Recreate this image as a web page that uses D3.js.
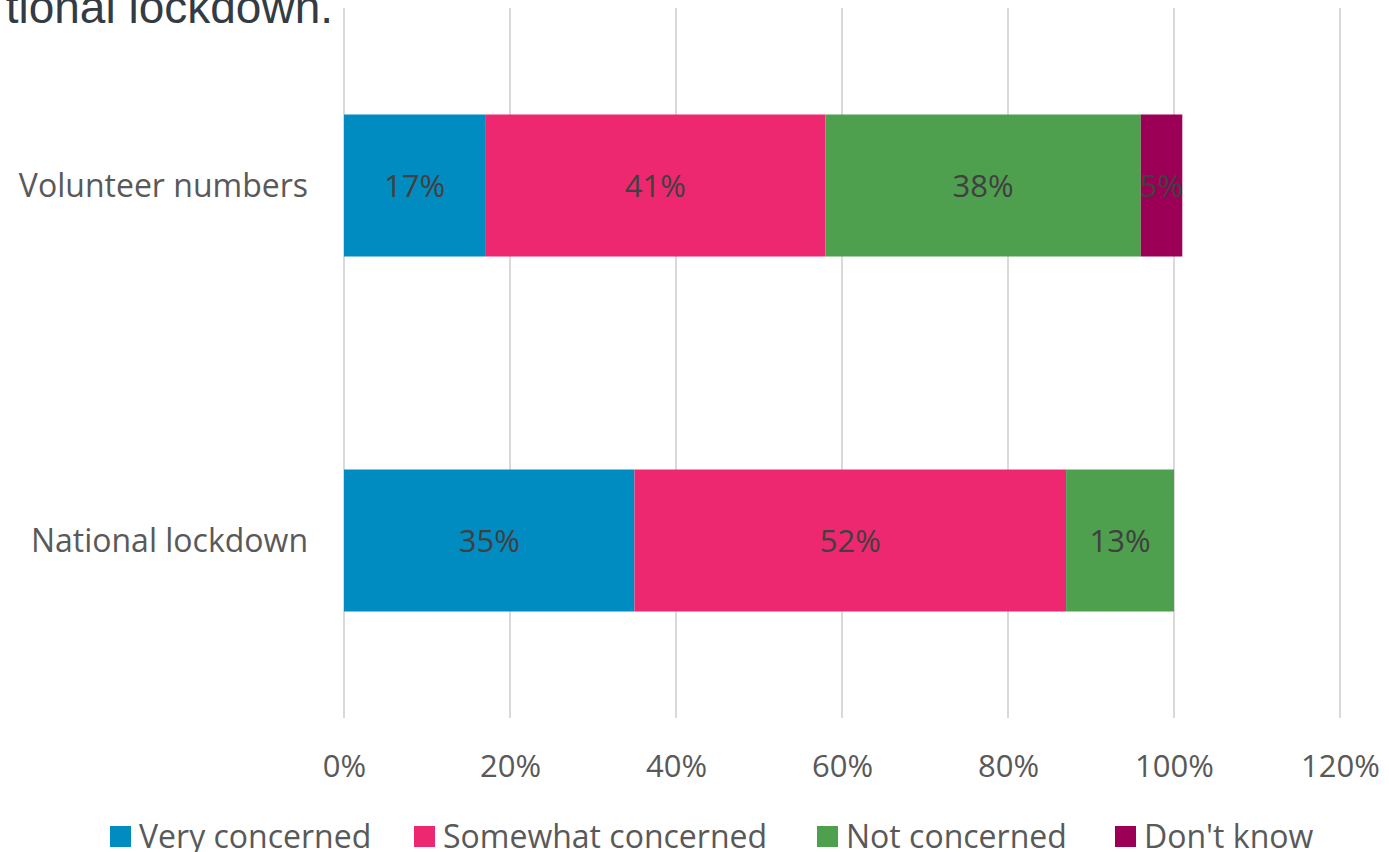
<!DOCTYPE html>
<html>
<head>
<meta charset="utf-8">
<script src="https://cdn.jsdelivr.net/npm/d3@7"></script>
<style>
  body { margin: 0; background: #fff; }
  svg { display: block; }
  .tick text { fill: #595959; }
</style>
</head>
<body>
<svg id="chart" width="1389" height="852"></svg>
<script>
// data
const categories = ["Volunteer numbers", "National lockdown"];
const seriesNames = ["Very concerned", "Somewhat concerned", "Not concerned", "Don't know"];
const seriesColors = ["#008CC1", "#EE2870", "#4E9F4E", "#9B0056"];
const veryConcerned = [17, 35];
const somewhatConcerned = [41, 52];
const notConcerned = [38, 13];
const dontKnow = [5, 0];
const xTicks = [0, 20, 40, 60, 80, 100, 120];

const svg = d3.select("#chart");
const font = "'Open Sans', sans-serif";

const margin = { left: 344, right: 49, top: 8, bottom: 134 };
const W = 1389, H = 852;

const x = d3.scaleLinear().domain([0, 120]).range([margin.left, W - margin.right]);
const y = d3.scaleBand().domain(categories)
    .range([margin.top, H - margin.bottom])
    .paddingInner(0.6).paddingOuter(0.3);

// title fragment (cut off in the original)
svg.append("text")
    .attr("x", 333).attr("y", 23)
    .attr("text-anchor", "end")
    .style("font-family", "'Liberation Sans', Arial, sans-serif")
    .style("font-size", "46px")
    .style("fill", "#333B44")
    .text("tional lockdown.");

// gridlines
svg.append("g").selectAll("line")
    .data(xTicks)
    .enter().append("line")
    .attr("x1", d => x(d)).attr("x2", d => x(d))
    .attr("y1", margin.top).attr("y2", H - margin.bottom)
    .style("stroke", "#D9D9D9").style("stroke-width", 2);

// stack the series
const rows = categories.map((c, i) => ({
    cat: c,
    "Very concerned": veryConcerned[i],
    "Somewhat concerned": somewhatConcerned[i],
    "Not concerned": notConcerned[i],
    "Don't know": dontKnow[i]
}));
const stacked = d3.stack().keys(seriesNames)(rows);

const layers = svg.append("g").selectAll("g")
    .data(stacked)
    .enter().append("g")
    .style("fill", (d, i) => seriesColors[i]);

layers.selectAll("rect")
    .data(d => d.filter(p => p[1] > p[0]))
    .enter().append("rect")
    .attr("x", d => x(d[0]))
    .attr("width", d => x(d[1]) - x(d[0]))
    .attr("y", d => y(d.data.cat))
    .attr("height", y.bandwidth());

layers.selectAll("text")
    .data(d => d.filter(p => p[1] > p[0]))
    .enter().append("text")
    .attr("x", d => (x(d[0]) + x(d[1])) / 2)
    .attr("y", d => y(d.data.cat) + y.bandwidth() / 2 + 11)
    .attr("text-anchor", "middle")
    .style("font-family", font)
    .style("font-size", "31px")
    .style("fill", "#404040")
    .text(d => (d[1] - d[0]) + "%");

// category axis labels
svg.append("g").selectAll("text")
    .data(categories)
    .enter().append("text")
    .attr("x", 308)
    .attr("y", d => y(d) + y.bandwidth() / 2 + 11)
    .attr("text-anchor", "end")
    .style("font-family", font)
    .style("font-size", "32px")
    .style("fill", "#595959")
    .text(d => d);

// x axis labels
const xAxis = d3.axisBottom(x)
    .tickValues(xTicks)
    .tickFormat(d => d + "%")
    .tickSize(0).tickPadding(0);
const gx = svg.append("g")
    .attr("transform", `translate(0, ${H - margin.bottom + 37})`)
    .call(xAxis);
gx.select(".domain").remove();
gx.selectAll("text")
    .style("font-family", font)
    .style("font-size", "31px");

// legend
const legendX = [110, 414, 817, 1115];
const legend = svg.append("g").selectAll("g")
    .data(seriesNames)
    .enter().append("g")
    .attr("transform", (d, i) => `translate(${legendX[i]}, 826)`);
legend.append("rect")
    .attr("width", 21).attr("height", 21)
    .style("fill", (d, i) => seriesColors[i]);
legend.append("text")
    .attr("x", 29).attr("y", 22)
    .style("font-family", font)
    .style("font-size", "32px")
    .style("fill", "#595959")
    .text(d => d);
</script>
</body>
</html>
